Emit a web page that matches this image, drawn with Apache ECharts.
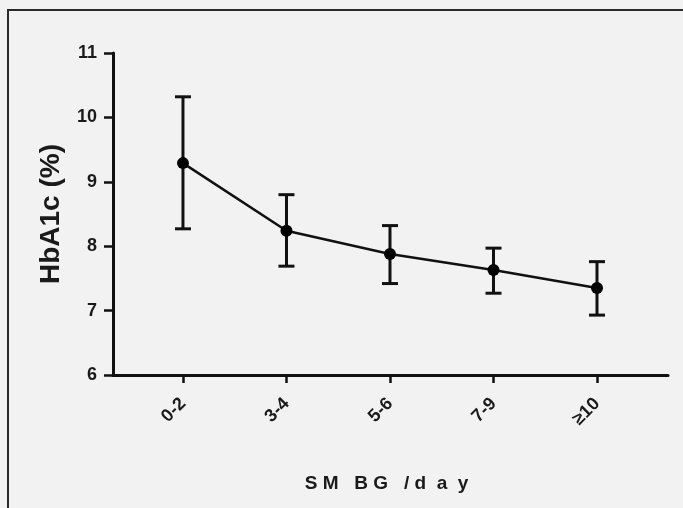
<!DOCTYPE html>
<html>
<head>
<meta charset="utf-8">
<script src="https://cdn.jsdelivr.net/npm/echarts@6/dist/echarts.min.js"></script>
<style>
html,body{margin:0;padding:0;background:#f2f2f2;}
#chart{width:683px;height:508px;}
</style>
</head>
<body>
<div id="chart"></div>
<script>
var categories = ['0-2', '3-4', '5-6', '7-9', '≥10'];
var meanValues = [9.29, 8.24, 7.88, 7.63, 7.35];
var upperValues = [10.32, 8.80, 8.32, 7.97, 7.76];
var lowerValues = [8.27, 7.69, 7.42, 7.27, 6.93];
var yTicks = [6, 7, 8, 9, 10, 11];

var lineData = meanValues.map(function (v, i) { return [i, v]; });
var errData = meanValues.map(function (v, i) { return [i, lowerValues[i], upperValues[i]]; });
var catIdx = categories.map(function (c, i) { return i; });

var chart = echarts.init(document.getElementById('chart'));
chart.setOption({
  backgroundColor: '#f2f2f2',
  animation: false,
  graphic: [{
    type: 'rect',
    shape: { x: 8, y: 10, width: 720, height: 560 },
    style: { fill: 'none', stroke: '#2a2a2a', lineWidth: 2 },
    silent: true,
    z: -10
  }],
  grid: { left: 113, right: 15, top: 53, bottom: 133 },
  xAxis: {
    type: 'value',
    min: -0.676,
    max: 4.686,
    name: 'S M   B G   / d  a  y',
    nameLocation: 'middle',
    nameGap: 99,
    nameTextStyle: { fontFamily: 'Liberation Sans, Arial, sans-serif', fontWeight: 'bold', fontSize: 19, color: '#1a1a1a', padding: [0, 8, 0, 0] },
    splitLine: { show: false },
    axisLine: { show: true, onZero: false, lineStyle: { color: '#111', width: 3 } },
    axisTick: { show: true, customValues: catIdx, length: 8, lineStyle: { color: '#111', width: 2.5 } },
    axisLabel: {
      customValues: catIdx,
      rotate: 45,
      margin: 26,
      fontFamily: 'Liberation Sans, Arial, sans-serif',
      fontWeight: 'bold',
      fontSize: 18,
      color: '#1a1a1a',
      formatter: function (v) { return categories[Math.round(v)]; }
    }
  },
  yAxis: {
    type: 'value',
    min: yTicks[0],
    max: yTicks[yTicks.length - 1],
    interval: 1,
    name: 'HbA1c (%)',
    nameLocation: 'middle',
    nameGap: 48,
    nameTextStyle: { fontFamily: 'Liberation Sans, Arial, sans-serif', fontWeight: 'bold', fontSize: 28, color: '#1a1a1a' },
    splitLine: { show: false },
    axisLine: { show: true, onZero: false, lineStyle: { color: '#111', width: 3 } },
    axisTick: { show: true, length: 9, lineStyle: { color: '#111', width: 2.5 } },
    axisLabel: {
      margin: 16,
      fontFamily: 'Liberation Sans, Arial, sans-serif',
      fontWeight: 'bold',
      fontSize: 18,
      color: '#1a1a1a'
    }
  },
  series: [{
    type: 'custom',
    data: errData,
    z: 3,
    renderItem: function (params, api) {
      var x = api.value(0);
      var lo = api.coord([x, api.value(1)]);
      var hi = api.coord([x, api.value(2)]);
      var hw = 8;
      var st = { stroke: '#111', lineWidth: 3, fill: 'none' };
      return {
        type: 'group',
        children: [
          { type: 'line', shape: { x1: lo[0], y1: lo[1], x2: hi[0], y2: hi[1] }, style: st },
          { type: 'line', shape: { x1: lo[0] - hw, y1: lo[1], x2: lo[0] + hw, y2: lo[1] }, style: st },
          { type: 'line', shape: { x1: hi[0] - hw, y1: hi[1], x2: hi[0] + hw, y2: hi[1] }, style: st }
        ]
      };
    }
  }, {
    type: 'line',
    data: lineData,
    z: 4,
    symbol: 'circle',
    symbolSize: 12,
    itemStyle: { color: '#000' },
    lineStyle: { color: '#111', width: 2.5 }
  }]
});
</script>
</body>
</html>
